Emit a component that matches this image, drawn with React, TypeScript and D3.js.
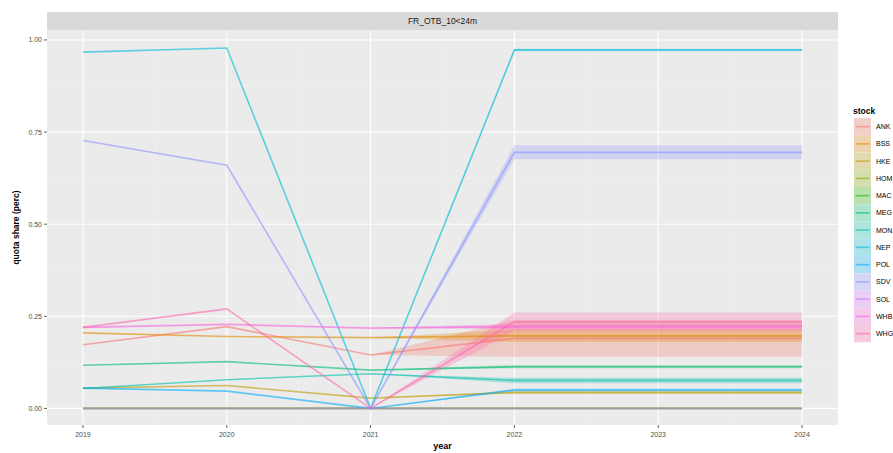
import React from "react";
import * as d3 from "d3";

// Years on the x axis
const years = [2019, 2020, 2021, 2022, 2023, 2024];
// Years covered by the projection ribbons
const bandYears = [2021, 2022, 2023, 2024];

const stocks = ["ANK", "BSS", "HKE", "HOM", "MAC", "MEG", "MON", "NEP", "POL", "SDV", "SOL", "WHB", "WHG"];

// Quota share per stock, 2019–2024
const ankShare = [0.173, 0.222, 0.145, 0.19, 0.19, 0.19];
const bssShare = [0.205, 0.195, 0.192, 0.197, 0.197, 0.197];
const hkeShare = [0.055, 0.062, 0.028, 0.043, 0.043, 0.043];
const homShare = [0, 0, 0, 0, 0, 0];
const macShare = [0, 0, 0, 0, 0, 0];
const megShare = [0.117, 0.127, 0.104, 0.113, 0.113, 0.113];
const monShare = [0.054, 0.078, 0.094, 0.076, 0.076, 0.076];
const nepShare = [0.967, 0.978, 0, 0.973, 0.973, 0.973];
const polShare = [0.055, 0.047, 0, 0.05, 0.05, 0.05];
const sdvShare = [0.727, 0.66, 0, 0.695, 0.695, 0.695];
const solShare = [0, 0, 0, 0, 0, 0];
const whbShare = [0.22, 0.228, 0.218, 0.222, 0.222, 0.222];
const whgShare = [0.22, 0.27, 0, 0.235, 0.235, 0.235];

// Lower / upper bounds of the projection ribbons, 2021–2024
const ankLow = [0.145, 0.14, 0.14, 0.14];
const ankHigh = [0.145, 0.24, 0.24, 0.24];
const bssLow = [0.192, 0.18, 0.18, 0.18];
const bssHigh = [0.192, 0.214, 0.214, 0.214];
const hkeLow = [0.028, 0.04, 0.04, 0.04];
const hkeHigh = [0.028, 0.047, 0.047, 0.047];
const zeroBand = [0, 0, 0, 0];
const megLow = [0.104, 0.109, 0.109, 0.109];
const megHigh = [0.104, 0.118, 0.118, 0.118];
const monLow = [0.094, 0.068, 0.068, 0.068];
const monHigh = [0.094, 0.083, 0.083, 0.083];
const nepLow = [0, 0.969, 0.969, 0.969];
const nepHigh = [0, 0.976, 0.976, 0.976];
const polLow = [0, 0.046, 0.046, 0.046];
const polHigh = [0, 0.054, 0.054, 0.054];
const sdvLow = [0, 0.676, 0.676, 0.676];
const sdvHigh = [0, 0.714, 0.714, 0.714];
const whbLow = [0.218, 0.215, 0.215, 0.215];
const whbHigh = [0.218, 0.23, 0.23, 0.23];
const whgLow = [0, 0.21, 0.21, 0.21];
const whgHigh = [0, 0.26, 0.26, 0.26];

const yTicks = [0, 0.25, 0.5, 0.75, 1.0];

const shares = [ankShare, bssShare, hkeShare, homShare, macShare, megShare, monShare, nepShare, polShare, sdvShare, solShare, whbShare, whgShare];
const lows = [ankLow, bssLow, hkeLow, zeroBand, zeroBand, megLow, monLow, nepLow, polLow, sdvLow, zeroBand, whbLow, whgLow];
const highs = [ankHigh, bssHigh, hkeHigh, zeroBand, zeroBand, megHigh, monHigh, nepHigh, polHigh, sdvHigh, zeroBand, whbHigh, whgHigh];

// ggplot default hue palette for 13 levels
const palette = ["#F8766D", "#E18A00", "#BE9C00", "#8CAB00", "#24B700", "#00BE70", "#00C1AB", "#00BBDA", "#00ACFC", "#8B93FF", "#D575FE", "#F962DD", "#FF65AC"];

const W = 893;
const H = 453;
const panel = { left: 47, right: 838, top: 30, bottom: 425 };
const FONT = "'Liberation Sans', Arial, sans-serif";

export default function App() {
  const x = d3.scaleLinear().domain([2018.75, 2024.25]).range([panel.left, panel.right]);
  const y = d3.scaleLinear().domain([-0.045, 1.027]).range([panel.bottom, panel.top]);

  const line = d3
    .line<[number, number]>()
    .x((d) => x(d[0]))
    .y((d) => y(d[1]));
  const area = d3
    .area<[number, number, number]>()
    .x((d) => x(d[0]))
    .y0((d) => y(d[1]))
    .y1((d) => y(d[2]));

  const series = stocks.map((s, i) => ({
    name: s,
    color: palette[i],
    pts: years.map((yr, j) => [yr, shares[i][j]] as [number, number]),
    band: bandYears.map((yr, j) => [yr, lows[i][j], highs[i][j]] as [number, number, number]),
  }));

  const xMinor = d3.range(2018.5, 2024.6, 1).filter((v) => v > 2018.75 && v < 2024.25);
  const yMinor = [0.125, 0.375, 0.625, 0.875];

  const legendTop = 118;
  const keyH = 17.25;

  return (
    <svg width={W} height={H} style={{ display: "block", position: "absolute", left: 0, top: 0 }} fontFamily={FONT}>
      <rect width={W} height={H} fill="#ffffff" />
      {/* facet strip */}
      <rect x={panel.left} y={12} width={panel.right - panel.left} height={18} fill="#D9D9D9" />
      <text x={(panel.left + panel.right) / 2} y={24} textAnchor="middle" fontSize={8.5} fill="#1A1A1A">
        FR_OTB_10&lt;24m
      </text>
      {/* panel */}
      <rect x={panel.left} y={panel.top} width={panel.right - panel.left} height={panel.bottom - panel.top} fill="#EBEBEB" />
      {xMinor.map((v) => (
        <line key={"xm" + v} x1={x(v)} x2={x(v)} y1={panel.top} y2={panel.bottom} stroke="#F5F5F5" strokeWidth={0.6} />
      ))}
      {yMinor.map((v) => (
        <line key={"ym" + v} x1={panel.left} x2={panel.right} y1={y(v)} y2={y(v)} stroke="#F5F5F5" strokeWidth={0.6} />
      ))}
      {years.map((v) => (
        <line key={"xg" + v} x1={x(v)} x2={x(v)} y1={panel.top} y2={panel.bottom} stroke="#ffffff" strokeWidth={1.1} />
      ))}
      {yTicks.map((v) => (
        <line key={"yg" + v} x1={panel.left} x2={panel.right} y1={y(v)} y2={y(v)} stroke="#ffffff" strokeWidth={1.1} />
      ))}
      {/* ribbons */}
      {series.map((s) => (
        <path key={"b" + s.name} d={area(s.band) || ""} fill={s.color} fillOpacity={0.28} stroke="none" />
      ))}
      {/* lines */}
      {series.map((s) => (
        <path key={"l" + s.name} d={line(s.pts) || ""} fill="none" stroke={s.color} strokeOpacity={0.6} strokeWidth={1.6} />
      ))}
      {/* y axis */}
      {yTicks.map((v) => (
        <g key={"yt" + v}>
          <line x1={panel.left - 3} x2={panel.left} y1={y(v)} y2={y(v)} stroke="#333333" strokeWidth={0.8} />
          <text x={panel.left - 5} y={y(v) + 2.5} textAnchor="end" fontSize={7} fill="#4D4D4D">
            {v.toFixed(2)}
          </text>
        </g>
      ))}
      {/* x axis */}
      {years.map((v) => (
        <g key={"xt" + v}>
          <line x1={x(v)} x2={x(v)} y1={panel.bottom} y2={panel.bottom + 3} stroke="#333333" strokeWidth={0.8} />
          <text x={x(v)} y={panel.bottom + 12} textAnchor="middle" fontSize={7} fill="#4D4D4D">
            {v}
          </text>
        </g>
      ))}
      <text x={(panel.left + panel.right) / 2} y={449} textAnchor="middle" fontSize={9} fontWeight="bold" fill="#000">
        year
      </text>
      <text
        transform={`translate(19,${(panel.top + panel.bottom) / 2}) rotate(-90)`}
        textAnchor="middle"
        fontSize={8.5}
        fontWeight="bold"
        fill="#000"
      >
        quota share (perc)
      </text>
      {/* legend */}
      <text x={853} y={114} fontSize={8.5} fontWeight="bold" fill="#000">
        stock
      </text>
      {series.map((s, i) => {
        const ky = legendTop + i * keyH;
        return (
          <g key={"k" + s.name}>
            <rect x={854} y={ky} width={17} height={keyH} fill="#F2F2F2" />
            <rect x={854} y={ky} width={17} height={keyH} fill={s.color} fillOpacity={0.28} />
            <line x1={855.5} x2={869.5} y1={ky + keyH / 2} y2={ky + keyH / 2} stroke={s.color} strokeOpacity={0.6} strokeWidth={1.6} />
            <text x={876} y={ky + keyH / 2 + 2.5} fontSize={7} fill="#000">
              {s.name}
            </text>
          </g>
        );
      })}
    </svg>
  );
}
